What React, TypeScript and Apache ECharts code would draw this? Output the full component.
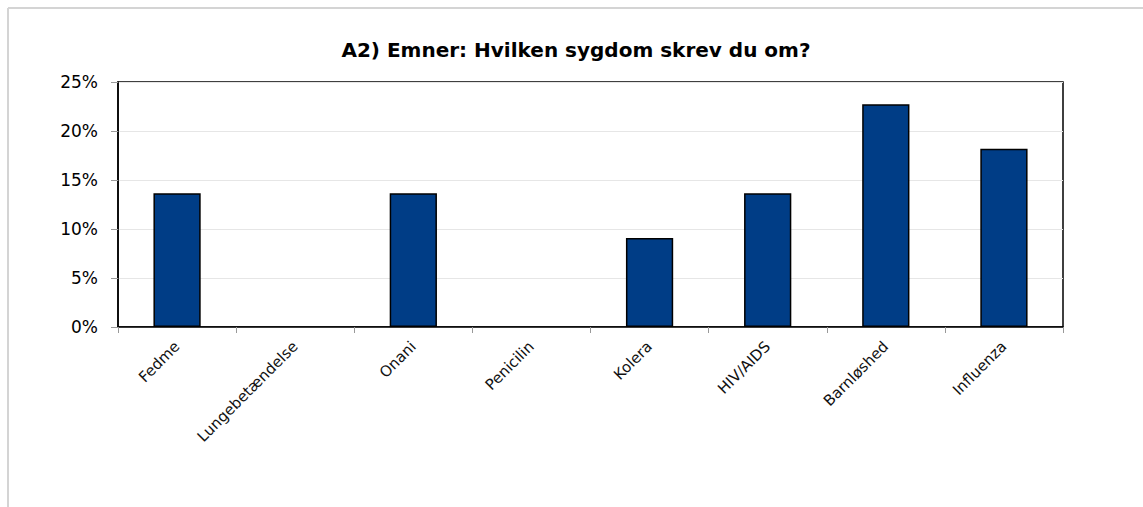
import React, { useEffect, useRef } from "react";
import * as echarts from "echarts";

const categories = ["Fedme", "Lungebetændelse", "Onani", "Penicilin", "Kolera", "HIV/AIDS", "Barnløshed", "Influenza"];
const values = [13.64, 0, 13.64, 0, 9.09, 13.64, 22.73, 18.18];
const yTicks = [0, 5, 10, 15, 20, 25];
const title = "A2) Emner: Hvilken sygdom skrev du om?";

const FONT = "'DejaVu Sans', sans-serif";

export default function App() {
  const ref = useRef<HTMLDivElement>(null);
  useEffect(() => {
    if (!ref.current) return;
    const chart = echarts.init(ref.current, undefined, { renderer: "svg" });
    chart.setOption({
      animation: false,
      backgroundColor: "#ffffff",
      title: {
        text: title,
        left: 571,
        textAlign: "center",
        top: 35,
        textStyle: { fontFamily: FONT, fontSize: 20, fontWeight: "bold", color: "#000" },
      },
      graphic: [
        { type: "line", shape: { x1: 8, y1: 8, x2: 1143, y2: 8 }, style: { stroke: "#d4d4d4", lineWidth: 2 } },
        { type: "line", shape: { x1: 8, y1: 8, x2: 8, y2: 507 }, style: { stroke: "#d4d4d4", lineWidth: 2 } },
      ],
      grid: {
        left: 118,
        right: 80,
        top: 82,
        bottom: 180,
        show: true,
        borderColor: "#000",
        borderWidth: 1.5,
        backgroundColor: "#fff",
      },
      xAxis: {
        type: "category",
        data: categories,
        axisLine: { lineStyle: { color: "#000", width: 1.5 } },
        axisTick: { show: true, length: 6, lineStyle: { color: "#999" }, alignWithLabel: false },
        axisLabel: {
          rotate: 45,
          interval: 0,
          margin: 17,
          fontFamily: FONT,
          fontSize: 15,
          color: "#111",
        },
      },
      yAxis: {
        type: "value",
        min: yTicks[0],
        max: yTicks[yTicks.length - 1],
        interval: 5,
        axisLine: { show: true, lineStyle: { color: "#000", width: 1.5 } },
        axisTick: { show: true, length: 7, lineStyle: { color: "#999" } },
        splitLine: { show: true, lineStyle: { color: "#e6e6e6", width: 1 } },
        axisLabel: {
          formatter: "{value}%",
          margin: 20,
          fontFamily: FONT,
          fontSize: 17,
          color: "#000",
        },
      },
      series: [
        {
          type: "bar",
          data: values.map((v) => ({
            value: v,
            itemStyle: v === 0 ? { borderWidth: 0, opacity: 0 } : undefined,
          })),
          barWidth: "40%",
          itemStyle: { color: "#003d86", borderColor: "#000", borderWidth: 1.5 },
        },
      ],
    });
    return () => chart.dispose();
  }, []);
  return (
    <div
      ref={ref}
      style={{ position: "fixed", left: 0, top: 0, width: 1143, height: 507 }}
    />
  );
}
